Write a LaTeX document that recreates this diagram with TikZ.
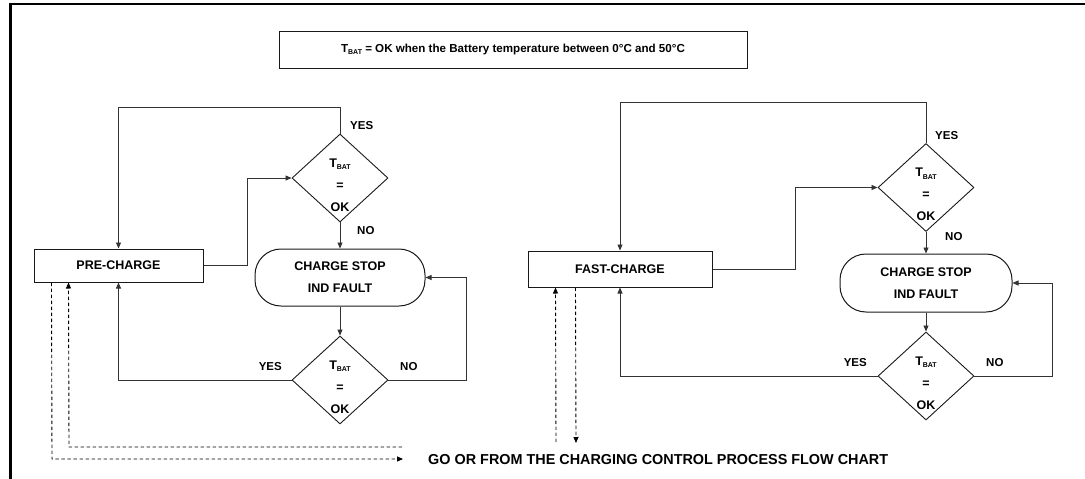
\documentclass[tikz,border=0pt]{standalone}
\usepackage{fontspec}
\setmainfont{Liberation Sans}
\usetikzlibrary{shapes.geometric,arrows.meta,calc}
\newcommand{\tbat}{T\raisebox{-0.35ex}{\fontsize{7}{7}\selectfont BAT}}
\begin{document}
\begin{tikzpicture}[x=1pt,y=-1pt,
  conn/.style={draw=black!80,line width=0.8pt},
  arr/.style={conn,-{Triangle[length=6pt,width=5pt]}},
  dsh/.style={draw=black,line width=0.9pt,dash pattern=on 3.5pt off 2.5pt},
  dsharr/.style={dsh,-{Triangle[length=6pt,width=5pt]}},
  box/.style={draw=black!90,line width=1pt,rectangle,inner sep=0,font=\fontsize{12.5}{14}\selectfont\bfseries},
  term/.style={box,rounded corners=26pt,align=center,font=\fontsize{12.5}{22}\selectfont\bfseries},
  dec/.style={diamond,draw=black!90,line width=0.9pt,inner sep=0,minimum width=96pt,minimum height=88pt,
    label={[font=\fontsize{12.5}{22}\selectfont\bfseries,align=center,yshift=-7pt]center:{\tbat\\=\\OK}}},
  lbl/.style={font=\fontsize{11.5}{13}\selectfont\bfseries,inner sep=0}
]
\useasboundingbox (0,0) rectangle (1085,479);
\draw[line width=2.5pt] (10.5,479) -- (10.5,4) -- (1085,4);

% top note
\node[box,font=\fontsize{11.6}{13}\selectfont\bfseries,minimum width=468pt,minimum height=37pt] (note) at (513,49.5) {\tbat{} = OK when the Battery temperature between 0°C and 50°C};

% left flow
\node[box,minimum width=169pt,minimum height=33pt] (pre) at (118.5,265.5) {PRE-CHARGE};
\node[term,minimum width=170pt,minimum height=57pt] (t1) at (340,277.5) {CHARGE STOP\\IND FAULT};
\node[dec] (d1) at (340,178) {};
\node[dec] (d2) at (340,380) {};

\draw[arr] (pre.east) -- (247,265.5) -- (247,178) -- (d1.west);
\draw[arr] (d1.north) -- (340,107) -- (118.5,107) -- (pre.north);
\draw[arr] (d1.south) -- (t1.north);
\draw[arr] (t1.south) -- (d2.north);
\draw[arr] (d2.west) -- (118.5,380) -- (pre.south);
\draw[arr] (d2.east) -- (466,380) -- (466,277.5) -- (t1.east);

\node[lbl,anchor=west] (y1) at (350,126) {YES};
\node[lbl,anchor=west] (n1) at (357,231) {NO};
\node[lbl,anchor=east] (y2) at (282,367) {YES};
\node[lbl,anchor=west] (n2) at (400,367) {NO};

% right flow
\node[box,minimum width=184pt,minimum height=36pt] (fast) at (620,269) {FAST-CHARGE};
\node[term,minimum width=172pt,minimum height=58pt] (t2) at (926,283) {CHARGE STOP\\IND FAULT};
\node[dec] (d3) at (926,187.5) {};
\node[dec] (d4) at (926,376) {};

\draw[arr] (fast.east) -- (795,269) -- (795,187.5) -- (d3.west);
\draw[arr] (d3.north) -- (926,102) -- (620,102) -- (fast.north);
\draw[arr] (d3.south) -- (t2.north);
\draw[arr] (t2.south) -- (d4.north);
\draw[arr] (d4.west) -- (620,376) -- (fast.south);
\draw[arr] (d4.east) -- (1052,376) -- (1052,283) -- (t2.east);

\node[lbl,anchor=west] (y3) at (935,136) {YES};
\node[lbl,anchor=west] (n3) at (945,237) {NO};
\node[lbl,anchor=east] (y4) at (867,363) {YES};
\node[lbl,anchor=west] (n4) at (986,363) {NO};

% dashed links to the main chart
\node[font=\fontsize{14.4}{16}\selectfont\bfseries,anchor=west,inner sep=0] (go) at (428,460) {GO OR FROM THE CHARGING CONTROL PROCESS FLOW CHART};
\coordinate (ga) at (403,459);
\coordinate (gb) at (402,447);
\coordinate (gc) at (556,442);
\coordinate (gd) at (576,443);
\draw[dsharr] ($(pre.south west)+(18,0)$) -- (52,459) -- (ga);
\draw[dsharr] (gb) -- (69,447) -- ($(pre.south west)+(35,0)$);
\draw[dsharr] (gc) -- ($(fast.south west)+(28,0)$);
\draw[dsharr] ($(fast.south west)+(48,0)$) -- (gd);
\end{tikzpicture}
\end{document}
